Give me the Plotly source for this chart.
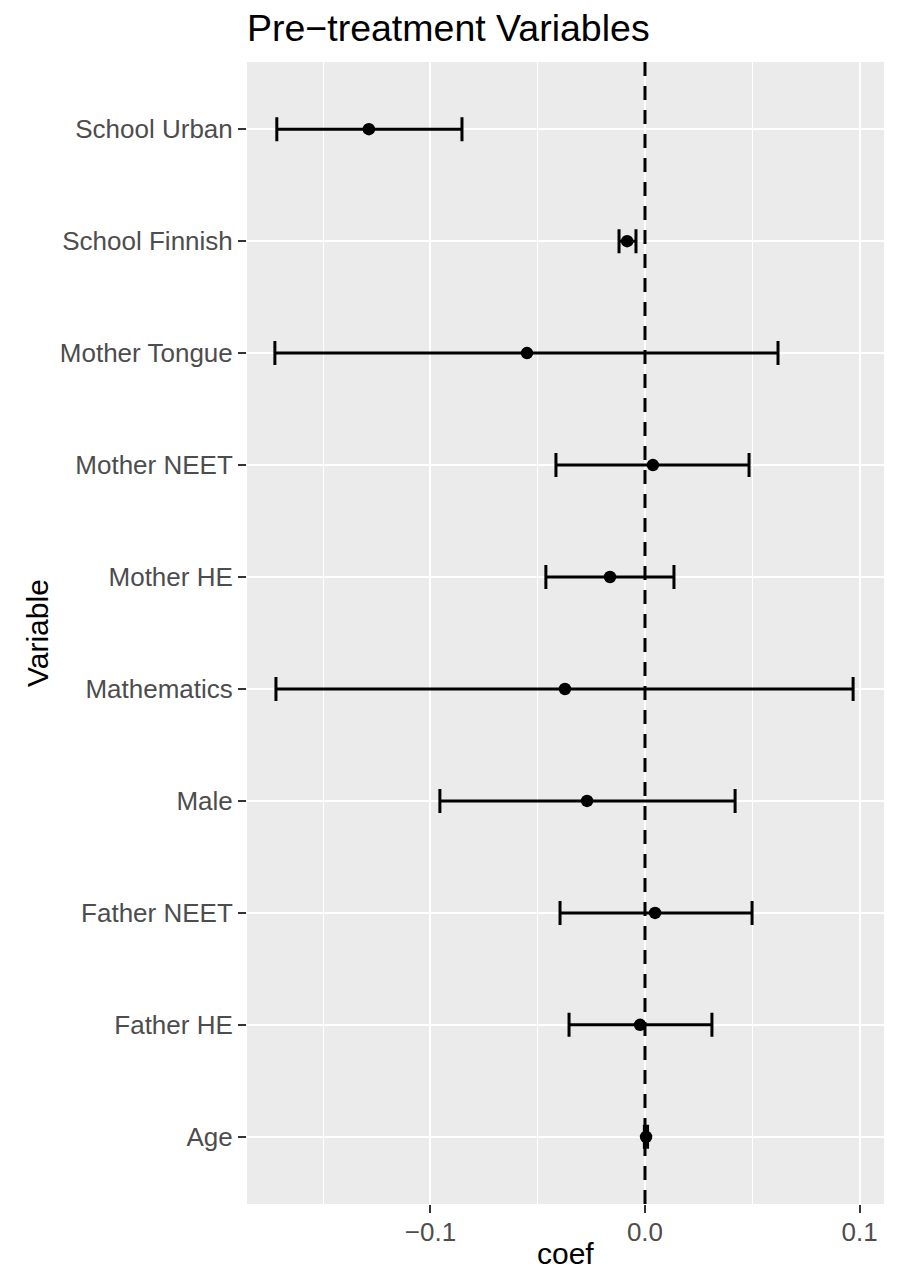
import plotly.graph_objects as go

variables = ["Age", "Father HE", "Father NEET", "Male", "Mathematics",
             "Mother HE", "Mother NEET", "Mother Tongue", "School Finnish", "School Urban"]
coef = [0.0005, -0.0023, 0.0047, -0.027, -0.0373, -0.0163, 0.0037, -0.055, -0.0083, -0.1287]
ci_low = [-0.0003, -0.0354, -0.0396, -0.0956, -0.172, -0.0462, -0.0415, -0.1725, -0.0121, -0.1716]
ci_high = [0.0012, 0.0312, 0.0499, 0.042, 0.097, 0.0135, 0.0485, 0.062, -0.0042, -0.0853]

x_ticks = [-0.1, 0.0, 0.1]
x_tick_text = ["\u22120.1", "0.0", "0.1"]
x_minor = [-0.15, -0.05, 0.05]

err_plus = [h - c for h, c in zip(ci_high, coef)]
err_minus = [c - l for c, l in zip(coef, ci_low)]

FONT = "Liberation Sans, Arial, sans-serif"

fig = go.Figure()
fig.add_trace(go.Scatter(
    x=coef, y=variables, mode="markers",
    marker=dict(color="black", size=12.5),
    error_x=dict(type="data", symmetric=False, array=err_plus, arrayminus=err_minus,
                 color="black", thickness=3, width=12),
    showlegend=False,
))

fig.add_shape(type="line", xref="x", yref="paper", x0=0, x1=0, y0=0, y1=1,
              line=dict(color="black", width=3, dash="14px,10px"))

fig.update_layout(
    width=897, height=1274,
    margin=dict(l=247, r=13, t=62, b=70, autoexpand=False),
    paper_bgcolor="white", plot_bgcolor="#EBEBEB",
    font=dict(family=FONT, color="#4D4D4D"),
    title=dict(text="Pre\u2212treatment Variables", x=247 / 897, xanchor="left",
               xref="container", y=1 - 15 / 1274, yanchor="top", yref="container",
               font=dict(size=37.5, color="black", family=FONT)),
    xaxis=dict(range=[-0.1855, 0.1114], tickvals=x_ticks, ticktext=x_tick_text,
               showgrid=True, gridcolor="white", gridwidth=2.4, zeroline=False,
               ticks="outside", ticklen=8, tickwidth=2.2, tickcolor="#333333",
               tickfont=dict(size=26, color="#4D4D4D"), showline=False,
               ticklabelstandoff=-3,
               minor=dict(tickvals=x_minor, showgrid=True, gridcolor="white", gridwidth=1.2, ticks=""),
               automargin=False),
    yaxis=dict(type="category", categoryorder="array", categoryarray=variables,
               range=[-0.6, 9.6], showgrid=True, gridcolor="white", gridwidth=2.4,
               zeroline=False, ticks="outside", ticklen=8, tickwidth=2.2, tickcolor="#333333",
               tickfont=dict(size=26, color="#4D4D4D"), showline=False, automargin=False),
    annotations=[
        dict(text="coef", xref="paper", yref="paper", x=0.5, y=0, yshift=-68,
             xanchor="center", yanchor="bottom", showarrow=False,
             font=dict(size=30, color="black", family=FONT)),
        dict(text="Variable", xref="paper", yref="paper", x=0, xshift=-210, y=0.5,
             xanchor="center", yanchor="middle", textangle=-90, showarrow=False,
             font=dict(size=30, color="black", family=FONT)),
    ],
)

fig.write_html("out.html")
